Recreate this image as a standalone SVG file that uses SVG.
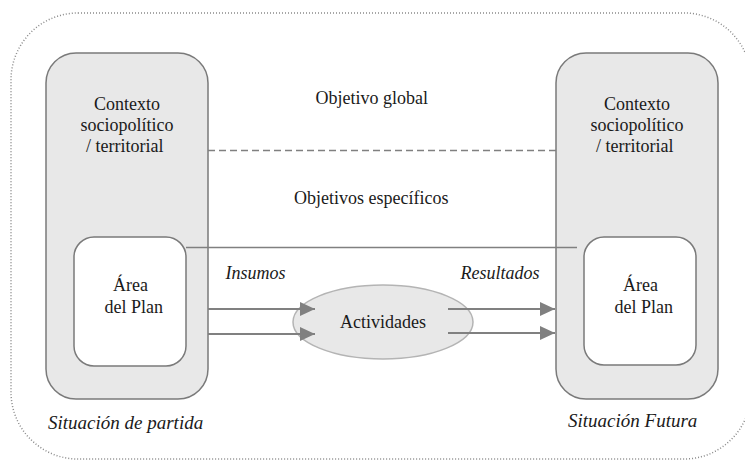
<svg xmlns="http://www.w3.org/2000/svg" width="745" height="468" viewBox="0 0 745 468">
<style>
  .outer { fill: #e8e8e8; stroke: #7a7a7a; stroke-width: 1.5; }
  .inner { fill: #ffffff; stroke: #7a7a7a; stroke-width: 1.5; }
  .ln { stroke: #808080; stroke-width: 1.5; fill: none; }
  .ar { stroke: #808080; stroke-width: 2; fill: none; marker-end: url(#ah); }
</style>
<defs>
  <marker id="ah" markerWidth="16" markerHeight="14" refX="15" refY="7" orient="auto" markerUnits="userSpaceOnUse">
    <path d="M0,0 L15,7 L0,14 Z" fill="#808080"/>
  </marker>
</defs>
<rect width="745" height="468" fill="#ffffff"/>
<g id="frame">
  <rect x="11" y="13" width="740" height="446" rx="67" ry="67" fill="none" stroke="#8a8a8a" stroke-width="1.5" stroke-dasharray="1 2"/>
</g>
<g id="left-context">
  <rect class="outer" x="46" y="53" width="162" height="346" rx="30"/>
  <text x="94" y="110" font-family="Liberation Serif" font-size="18" fill="#1a1a1a">Contexto</text>
  <text x="80.5" y="131" font-family="Liberation Serif" font-size="18" fill="#1a1a1a">sociopolítico</text>
  <text x="86" y="152" font-family="Liberation Serif" font-size="18" fill="#1a1a1a">/ territorial</text>
</g>
<g id="left-area">
  <rect class="inner" x="74" y="237" width="112" height="129" rx="20"/>
  <text x="113" y="291" font-family="Liberation Serif" font-size="18" fill="#1a1a1a">Área</text>
  <text x="104.5" y="313" font-family="Liberation Serif" font-size="18" fill="#1a1a1a">del Plan</text>
</g>
<g id="right-context">
  <rect class="outer" x="556" y="53" width="162" height="346" rx="30"/>
  <text x="604" y="110" font-family="Liberation Serif" font-size="18" fill="#1a1a1a">Contexto</text>
  <text x="590.5" y="131" font-family="Liberation Serif" font-size="18" fill="#1a1a1a">sociopolítico</text>
  <text x="596" y="152" font-family="Liberation Serif" font-size="18" fill="#1a1a1a">/ territorial</text>
</g>
<g id="right-area">
  <rect class="inner" x="584" y="237" width="112" height="128" rx="20"/>
  <text x="623" y="291" font-family="Liberation Serif" font-size="18" fill="#1a1a1a">Área</text>
  <text x="614.5" y="313" font-family="Liberation Serif" font-size="18" fill="#1a1a1a">del Plan</text>
</g>
<g id="actividades">
  <ellipse cx="383" cy="322" rx="90" ry="37" fill="#e8e8e8" stroke="#b4b4b4" stroke-width="1.5"/>
  <text x="340" y="328" font-family="Liberation Serif" font-size="18" fill="#1a1a1a">Actividades</text>
</g>
<g id="connectors">
  <line class="ln" x1="208" y1="150.5" x2="556" y2="150.5" stroke-dasharray="7 4"/>
  <line class="ln" x1="186" y1="247.5" x2="577" y2="247.5"/>
  <line class="ar" x1="208" y1="309" x2="315" y2="309"/>
  <line class="ar" x1="208" y1="334" x2="315" y2="334"/>
  <line class="ar" x1="448" y1="309" x2="555" y2="309"/>
  <line class="ar" x1="448" y1="333" x2="555" y2="333"/>
</g>
<g id="labels">
  <text x="315.5" y="104" font-family="Liberation Serif" font-size="18" fill="#1a1a1a">Objetivo global</text>
  <text x="294" y="204" font-family="Liberation Serif" font-size="18" fill="#1a1a1a">Objetivos específicos</text>
  <text x="225.5" y="279" font-family="Liberation Serif" font-size="18" font-style="italic" fill="#1a1a1a">Insumos</text>
  <text x="460.5" y="279" font-family="Liberation Serif" font-size="18" font-style="italic" fill="#1a1a1a">Resultados</text>
  <text x="48" y="429" font-family="Liberation Serif" font-size="19" font-style="italic" fill="#1a1a1a">Situación de partida</text>
  <text x="568" y="427" font-family="Liberation Serif" font-size="19" font-style="italic" fill="#1a1a1a">Situación Futura</text>
</g>
</svg>
